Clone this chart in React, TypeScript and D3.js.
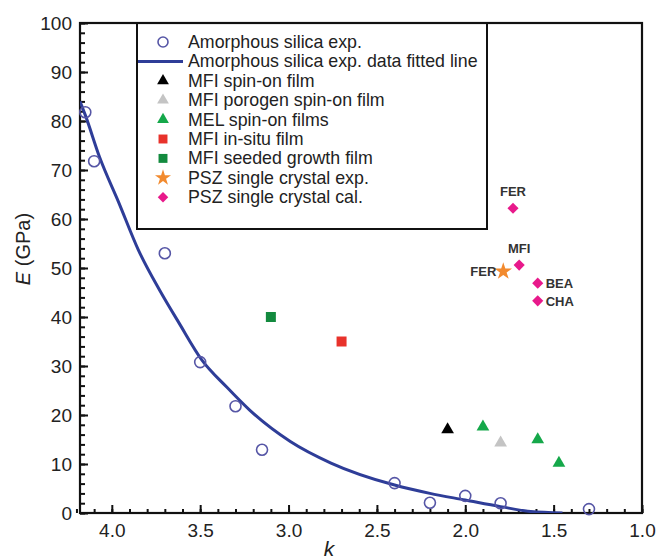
import React, { useEffect, useRef } from "react";
import * as d3 from "d3";

// amorphous silica experiments
const silicaK = [4.15, 4.1, 3.7, 3.5, 3.3, 3.15, 2.4, 2.2, 2.0, 1.8, 1.3];
const silicaE = [81.8, 71.8, 53, 30.8, 21.8, 12.9, 6.1, 2.1, 3.5, 2.0, 0.8];

// fitted line
const fitK = [4.18, 4.15, 4.07, 3.96, 3.85, 3.73, 3.62, 3.49, 3.35, 3.22, 2.99, 2.76, 2.4, 2.2, 2.0, 1.8, 1.63, 1.45];
const fitE = [84, 81.2, 72.7, 63.3, 53.7, 45.5, 38.8, 31.2, 25.7, 21.0, 14.6, 10.2, 5.7, 4.0, 2.65, 1.3, 0.3, 0];

const mfiSpinK = [2.1];
const mfiSpinE = [17];
const mfiPorogenK = [1.8];
const mfiPorogenE = [14.3];
const melK = [1.9, 1.59, 1.47];
const melE = [17.6, 15, 10.2];
const mfiInsituK = [2.7];
const mfiInsituE = [35];
const mfiSeededK = [3.1];
const mfiSeededE = [40];
const pszExpK = [1.785];
const pszExpE = [49.3];
const pszCalK = [1.73, 1.695, 1.59, 1.59];
const pszCalE = [62.2, 50.6, 46.9, 43.3];
const pszCalNames = ["FER", "MFI", "BEA", "CHA"];

const legendLabels = [
  "Amorphous silica exp.",
  "Amorphous silica exp. data fitted line",
  "MFI spin-on film",
  "MFI porogen spin-on film",
  "MEL spin-on films",
  "MFI in-situ film",
  "MFI seeded growth film",
  "PSZ single crystal exp.",
  "PSZ single crystal cal.",
];

const xMajor = [4.0, 3.5, 3.0, 2.5, 2.0, 1.5, 1.0];
const xMinor = d3.range(42, 9, -1).map((d) => d / 10);
const yMajor = [0, 10, 20, 30, 40, 50, 60, 70, 80, 90, 100];
const yMinor = d3.range(0, 101, 2);

const BLUE = "#2e3d98";
const CIRCLE = "#5656a6";
const GREEN = "#15a84a";
const DKGREEN = "#138a3e";
const RED = "#e8322b";
const ORANGE = "#f28a2e";
const PINK = "#e8198b";
const GREY = "#c4c4c4";

const W = 658;
const H = 560;
const x = d3.scaleLinear().domain([4.18, 1.0]).range([80, 642]);
const y = d3.scaleLinear().domain([0, 100]).range([513, 23]);

const zip = (ks: number[], es: number[]) => ks.map((k, i) => [k, es[i]] as [number, number]);
const font = "Arial, Liberation Sans, sans-serif";

export default function App() {
  const gx = useRef<SVGGElement>(null);
  const gy = useRef<SVGGElement>(null);

  useEffect(() => {
    const ax = d3.select(gx.current);
    ax.selectAll("*").remove();
    const minorX = ax.append("g").call(d3.axisBottom(x).tickValues(xMinor).tickSize(-4).tickFormat(() => ""));
    const majorX = ax.append("g").call(
      d3.axisBottom(x).tickValues(xMajor).tickSize(-8).tickPadding(11).tickFormat(d3.format(".1f"))
    );
    [minorX, majorX].forEach((g) => {
      g.select(".domain").remove();
      g.selectAll("line").attr("stroke", "#111").attr("stroke-width", 2);
    });
    majorX.selectAll("text").attr("font-size", 19).attr("font-family", font).attr("fill", "#222");

    const ayS = d3.select(gy.current);
    ayS.selectAll("*").remove();
    const minorY = ayS.append("g").call(d3.axisLeft(y).tickValues(yMinor).tickSize(-5).tickFormat(() => ""));
    const majorY = ayS.append("g").call(d3.axisLeft(y).tickValues(yMajor).tickSize(-8).tickPadding(8).tickFormat(d3.format("d")));
    [minorY, majorY].forEach((g) => {
      g.select(".domain").remove();
      g.selectAll("line").attr("stroke", "#111").attr("stroke-width", 2);
    });
    majorY.selectAll("text").attr("font-size", 19).attr("font-family", font).attr("fill", "#222");
  }, []);

  const sym = (type: d3.SymbolType, size: number) => d3.symbol().type(type).size(size)() as string;
  const line = d3
    .line<[number, number]>()
    .x((d) => x(d[0]))
    .y((d) => y(d[1]))
    .curve(d3.curveMonotoneX);

  const tri = sym(d3.symbolTriangle, 70);
  const sq = sym(d3.symbolSquare, 100);
  const dia = sym(d3.symbolSquare, 62);
  const star = sym(d3.symbolStar, 95);

  const legendX = 137;
  const legendRow = (i: number) => 42 + i * 19.4;
  const legendMarks = [
    <circle r={5} fill="none" stroke={CIRCLE} strokeWidth={1.6} />,
    <line x1={-25} x2={20} stroke={BLUE} strokeWidth={3} />,
    <path d={sym(d3.symbolTriangle, 60)} fill="#000" />,
    <path d={sym(d3.symbolTriangle, 60)} fill={GREY} />,
    <path d={sym(d3.symbolTriangle, 60)} fill={GREEN} />,
    <path d={sym(d3.symbolSquare, 80)} fill={RED} />,
    <path d={sym(d3.symbolSquare, 80)} fill={DKGREEN} />,
    <path d={sym(d3.symbolStar, 80)} fill={ORANGE} />,
    <path d={sym(d3.symbolSquare, 55)} fill={PINK} transform="rotate(45)" />,
  ];

  const labelPos: Record<string, [number, number, string]> = {
    FER: [0, -12, "middle"],
    MFI: [0, -12, "middle"],
    BEA: [8, 5, "start"],
    CHA: [8, 5, "start"],
  };

  return (
    <svg width={W} height={H} style={{ position: "absolute", left: 0, top: 0, background: "#fff" }}>
      <defs>
        <clipPath id="plot">
          <rect x={80} y={23} width={562} height={490} />
        </clipPath>
      </defs>
      <g ref={gx} transform={`translate(0,${y(0)})`} />
      <g ref={gy} transform={`translate(${x(4.18)},0)`} />
      <rect x={80} y={23} width={562} height={490} fill="none" stroke="#111" strokeWidth={2.2} />

      {/* legend */}
      <rect x={legendX} y={23} width={350} height={206} fill="none" stroke="#111" strokeWidth={2} />
      {legendLabels.map((t, i) => (
        <g key={t} transform={`translate(0,${legendRow(i)})`}>
          <g transform={`translate(163,0)`}>{legendMarks[i]}</g>
          <text x={188} y={6} fontSize={17.8} fontFamily={font} fill="#222">
            {t}
          </text>
        </g>
      ))}

      <path d={line(zip(fitK, fitE)) as string} fill="none" stroke={BLUE} strokeWidth={3} clipPath="url(#plot)" />

      {zip(silicaK, silicaE).map(([k, e], i) => (
        <circle key={"s" + i} cx={x(k)} cy={y(e)} r={5.5} fill="none" stroke={CIRCLE} strokeWidth={1.6} />
      ))}
      {zip(mfiSpinK, mfiSpinE).map(([k, e], i) => (
        <path key={"a" + i} d={tri} transform={`translate(${x(k)},${y(e)})`} fill="#000" />
      ))}
      {zip(mfiPorogenK, mfiPorogenE).map(([k, e], i) => (
        <path key={"b" + i} d={tri} transform={`translate(${x(k)},${y(e)})`} fill={GREY} />
      ))}
      {zip(melK, melE).map(([k, e], i) => (
        <path key={"c" + i} d={tri} transform={`translate(${x(k)},${y(e)})`} fill={GREEN} />
      ))}
      {zip(mfiInsituK, mfiInsituE).map(([k, e], i) => (
        <path key={"d" + i} d={sq} transform={`translate(${x(k)},${y(e)})`} fill={RED} />
      ))}
      {zip(mfiSeededK, mfiSeededE).map(([k, e], i) => (
        <path key={"e" + i} d={sq} transform={`translate(${x(k)},${y(e)})`} fill={DKGREEN} />
      ))}
      {zip(pszCalK, pszCalE).map(([k, e], i) => {
        const [dx, dy, anchor] = labelPos[pszCalNames[i]];
        return (
          <g key={"f" + i} transform={`translate(${x(k)},${y(e)})`}>
            <path d={dia} fill={PINK} transform="rotate(45)" />
            <text x={dx} y={dy} fontSize={13} fontFamily={font} fontWeight="bold" fill="#333" textAnchor={anchor}>
              {pszCalNames[i]}
            </text>
          </g>
        );
      })}
      {zip(pszExpK, pszExpE).map(([k, e], i) => (
        <g key={"g" + i} transform={`translate(${x(k)},${y(e)})`}>
          <path d={star} fill={ORANGE} />
          <text x={-7} y={5} fontSize={13} fontFamily={font} fontWeight="bold" fill="#333" textAnchor="end">
            FER
          </text>
        </g>
      ))}

      {/* axis titles */}
      <text x={329} y={556} fontSize={21} fontFamily={font} fontStyle="italic" fill="#222" textAnchor="middle">
        k
      </text>
      <text transform="translate(30,249) rotate(-90)" fontSize={20} fontFamily={font} fill="#222" textAnchor="middle">
        <tspan fontStyle="italic">E</tspan> (GPa)
      </text>
    </svg>
  );
}
